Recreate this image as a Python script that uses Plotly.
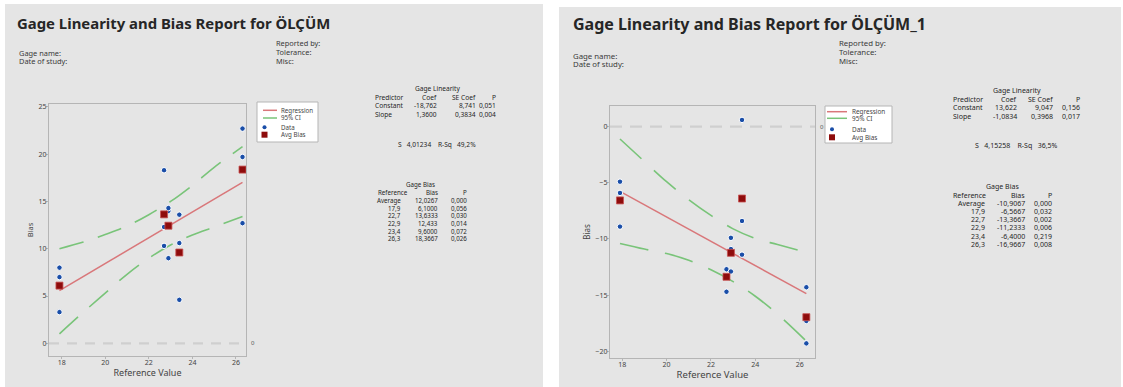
import plotly.graph_objects as go

W, H = 1123, 387

# ---------------- data ----------------
ref_values = [17.9, 22.7, 22.9, 23.4, 26.3]
ref_points = [17.9, 17.9, 17.9, 22.7, 22.7, 22.7, 22.9, 22.9, 22.9,
              23.4, 23.4, 23.4, 26.3, 26.3, 26.3]

bias_left = [8.0, 7.0, 3.3, 18.3, 12.3, 10.3, 14.0, 9.0, 14.3,
             13.6, 10.6, 4.6, 22.7, 19.7, 12.7]
avg_left = [6.1, 13.6333, 12.4333, 9.6, 18.3667]
reg_x = [17.9, 26.3]
reg_left = [5.58, 17.01]
ci_x = [17.9, 19, 20, 21, 22, 23, 24, 25, 26.3]
ci_up_left = [10.0, 10.7, 11.5, 12.4, 13.6, 15.0, 16.7, 18.6, 20.8]
ci_lo_left = [1.0, 3.3, 5.3, 7.3, 9.0, 10.4, 11.45, 12.3, 13.4]

bias_right = [-4.9, -5.9, -8.9, -12.7, -14.7, -12.7, -9.9, -10.9, -12.9,
              0.6, -8.4, -11.4, -14.3, -17.3, -19.3]
avg_right = [-6.5667, -13.3667, -11.2333, -6.4, -16.9667]
reg_right = [-5.77, -14.87]
ci_up_right = [-1.1, -3.1, -4.9, -6.5, -7.9, -9.1, -9.95, -10.5, -11.2]
ci_lo_right = [-10.4, -10.9, -11.3, -11.9, -12.75, -13.8, -15.1, -16.7, -19.1]

left_titles = ["Gage Linearity and Bias Report for ÖLÇÜM"]
right_titles = ["Gage Linearity and Bias Report for ÖLÇÜM_1"]

lin_left = [["Predictor", "Coef", "SE Coef", "P"],
            ["Constant", "-18,762", "8,741", "0,051"],
            ["Slope", "1,3600", "0,3834", "0,004"]]
s_left = "S   4,01234    R-Sq   49,2%"
bias_tab_left = [["Reference", "Bias", "P"],
                 ["Average", "12,0267", "0,000"],
                 ["17,9", "6,1000", "0,056"],
                 ["22,7", "13,6333", "0,030"],
                 ["22,9", "12,433", "0,014"],
                 ["23,4", "9,6000", "0,072"],
                 ["26,3", "18,3667", "0,026"]]

lin_right = [["Predictor", "Coef", "SE Coef", "P"],
             ["Constant", "13,622", "9,047", "0,156"],
             ["Slope", "-1,0834", "0,3968", "0,017"]]
s_right = "S   4,15258    R-Sq   36,5%"
bias_tab_right = [["Reference", "Bias", "P"],
                  ["Average", "-10,9067", "0,000"],
                  ["17,9", "-6,5667", "0,032"],
                  ["22,7", "-13,3667", "0,002"],
                  ["22,9", "-11,2333", "0,006"],
                  ["23,4", "-6,4000", "0,219"],
                  ["26,3", "-16,9667", "0,008"]]

x_ticks = [18, 20, 22, 24, 26]
y_ticks_left = [0, 5, 10, 15, 20, 25]
y_ticks_right = [-20, -15, -10, -5, 0]

# ---------------- styles ----------------
FONT = "Noto Sans"
TXT = "#262626"
PANEL = "#e5e5e5"
RED = "#d9777a"
GREEN = "#79c479"
BLUE = "#1a4ea8"
DRED = "#8e0c0c"
FRAME = "#b5b5b5"


def px(x):
    return x / W


def py(y):
    return 1 - y / H


fig = go.Figure()

shapes = []
annotations = []


def text(x, y, s, size, xanchor="left", color=TXT, bold=False, yanchor="middle"):
    annotations.append(dict(
        x=px(x), y=py(y), xref="paper", yref="paper", text=s, showarrow=False,
        xanchor=xanchor, yanchor=yanchor,
        font=dict(family=FONT, size=size, color=color,
                  weight="bold" if bold else "normal")))


# panels
shapes.append(dict(type="rect", xref="paper", yref="paper", x0=px(5), x1=px(543),
                   y0=py(387), y1=py(4), fillcolor=PANEL, line_width=0, layer="below"))
shapes.append(dict(type="rect", xref="paper", yref="paper", x0=px(559), x1=px(1121),
                   y0=py(387), y1=py(7), fillcolor=PANEL, line_width=0, layer="below"))


def panel(idx, bias, avg, reg, ci_up, ci_lo, dom_x, dom_y, xr, yr, yticks,
          ci_dash, zero_dash, legend_box, legend_rows, title, title_pos, title_size,
          hdr, lin, s_txt, btab, c, tick_size, lab_size):
    xa = "x" if idx == 1 else "x2"
    ya = "y" if idx == 1 else "y2"
    xk = "xaxis" if idx == 1 else "xaxis2"
    yk = "yaxis" if idx == 1 else "yaxis2"

    for ci in (ci_up, ci_lo):
        fig.add_trace(go.Scatter(x=ci_x, y=ci, mode="lines", xaxis=xa, yaxis=ya,
                                 line=dict(color=GREEN, width=1.6, dash=ci_dash, shape="spline"),
                                 showlegend=False, hoverinfo="skip"))
    fig.add_trace(go.Scatter(x=reg_x, y=reg, mode="lines", xaxis=xa, yaxis=ya,
                             line=dict(color=RED, width=1.5), showlegend=False))
    fig.add_trace(go.Scatter(x=ref_points, y=bias, mode="markers", xaxis=xa, yaxis=ya,
                             marker=dict(color=BLUE, size=5.5, line=dict(color="white", width=1)),
                             showlegend=False))
    fig.add_trace(go.Scatter(x=ref_values, y=avg, mode="markers", xaxis=xa, yaxis=ya,
                             marker=dict(color=DRED, size=7, symbol="square",
                                         line=dict(color="#c85050", width=0.8)),
                             showlegend=False))

    axcommon = dict(showgrid=False, zeroline=False, showline=True, linecolor=FRAME,
                    linewidth=1.2, mirror=True, ticks="outside", ticklen=2,
                    tickcolor=FRAME, automargin=False,
                    tickfont=dict(family=FONT, size=tick_size, color="#444"))
    fig.update_layout({
        xk: dict(domain=[px(dom_x[0]), px(dom_x[1])], range=xr, tickvals=x_ticks,
                 anchor=ya, ticklabelstandoff=-3,
                 title=dict(text="Reference Value", standoff=2,
                            font=dict(family=FONT, size=lab_size, color="#444")),
                 **axcommon),
        yk: dict(domain=[py(dom_y[1]), py(dom_y[0])], range=yr, tickvals=yticks,
                 anchor=xa, ticklabelstandoff=-2,
                 title=dict(text="Bias", standoff=3,
                            font=dict(family=FONT, size=lab_size - 1.5, color="#444")),
                 **axcommon),
    })

    # zero reference line
    shapes.append(dict(type="line", xref=f"{xa} domain", yref=ya, x0=0, x1=1, y0=0, y1=0,
                       line=dict(color="#cfcfcf", width=2.2, dash=zero_dash)))
    annotations.append(dict(xref=f"{xa} domain", yref=ya, x=1.0, y=0, text="0",
                            xanchor="left", showarrow=False, xshift=3,
                            font=dict(family=FONT, size=tick_size - 1, color="#555")))

    # legend
    lx0, ly0, lx1, ly1 = legend_box
    shapes.append(dict(type="rect", xref="paper", yref="paper", x0=px(lx0), x1=px(lx1),
                       y0=py(ly1), y1=py(ly0), fillcolor="white",
                       line=dict(color=FRAME, width=1)))
    (yr1, yr2, yr3, yr4), (lnx0, lnx1, dotx, tx), lfs = legend_rows
    shapes.append(dict(type="line", xref="paper", yref="paper", x0=px(lnx0), x1=px(lnx1),
                       y0=py(yr1), y1=py(yr1), line=dict(color=RED, width=1.5)))
    shapes.append(dict(type="line", xref="paper", yref="paper", x0=px(lnx0), x1=px(lnx1),
                       y0=py(yr2), y1=py(yr2), line=dict(color=GREEN, width=1.5)))
    shapes.append(dict(type="circle", xref="paper", yref="paper", x0=px(dotx - 2),
                       x1=px(dotx + 2), y0=py(yr3 + 2), y1=py(yr3 - 2),
                       fillcolor=BLUE, line_width=0))
    shapes.append(dict(type="rect", xref="paper", yref="paper", x0=px(dotx - 3),
                       x1=px(dotx + 3), y0=py(yr4 + 3), y1=py(yr4 - 3),
                       fillcolor=DRED, line_width=0))
    for yy, s in zip([yr1, yr2, yr3, yr4], ["Regression", "95% CI", "Data", "Avg Bias"]):
        text(tx, yy, s, lfs, color="#444")

    # title and header
    text(title_pos[0], title_pos[1], title, title_size, bold=True, color="#262626")
    (gx, gy1, gy2), (rx, ry1, ry2, ry3), hs = hdr
    text(gx, gy1, "Gage name:", hs, color="#3a3a3a")
    text(gx, gy2, "Date of study:", hs, color="#3a3a3a")
    text(rx, ry1, "Reported by:", hs, color="#3a3a3a")
    text(rx, ry2, "Tolerance:", hs, color="#3a3a3a")
    text(rx, ry3, "Misc:", hs, color="#3a3a3a")

    # statistics
    fl, fb = c["fs_lin"], c["fs_bias"]
    text(c["lin_title"][0], c["lin_title"][1], "Gage Linearity", fl, xanchor="center")
    for i, row in enumerate(lin):
        yy = c["lin_y0"] + i * c["dy_lin"]
        text(c["lin_cols"][0], yy, row[0], fl)
        for colx, s in zip(c["lin_cols"][1:], row[1:]):
            text(colx, yy, s, fl, xanchor="right")
    text(c["s_pos"][0], c["s_pos"][1], s_txt.replace(" ", "&nbsp;"), fl, xanchor="center")
    text(c["bias_title"][0], c["bias_title"][1], "Gage Bias", fb, xanchor="center")
    for i, row in enumerate(btab):
        yy = c["bias_y0"] + i * c["dy_bias"]
        if i == 0:
            text(c["bias_cols"][0], yy, row[0], fb)
        else:
            text(c["bias_cols"][1], yy, row[0], fb, xanchor="right")
        text(c["bias_cols"][2], yy, row[1], fb, xanchor="right")
        text(c["bias_cols"][3], yy, row[2], fb, xanchor="right")


panel(1, bias_left, avg_left, reg_left, ci_up_left, ci_lo_left,
      (49, 246), (104, 356), [17.42, 26.46], [-1.34, 25.3],
      y_ticks_left, "25px,15px", "10px,8px",
      (257, 102, 318, 142),
      ((110.3, 118, 127.3, 134.7), (263, 277, 264.5, 279), 6.2),
      left_titles[0], (15, 23), 14.9,
      ((17, 52.5, 61.4), (274, 43, 52, 61), 7.4),
      lin_left, s_left, bias_tab_left,
      dict(fs_lin=6.6, fs_bias=6.2, dy_lin=8.7, dy_bias=7.7,
           lin_title=(437.5, 88), lin_y0=97,
           lin_cols=(373, 439, 478, 498), s_pos=(437, 144.7),
           bias_title=(420, 184.3), bias_y0=192.7,
           bias_cols=(376, 403.3, 440, 469.3)),
      7, 9)

panel(2, bias_right, avg_right, reg_right, ci_up_right, ci_lo_right,
      (610, 815), (106, 358), [17.45, 26.69], [-20.6, 1.84],
      y_ticks_right, "29px,17px", "12px,8px",
      (825, 106, 892, 143),
      ((111.7, 118.3, 129.3, 137.3), (827, 847, 832, 850), 6.4),
      right_titles[0], (571, 24), 16.05,
      ((571, 56, 64.5), (837, 43, 52, 61), 7.8),
      lin_right, s_right, bias_tab_right,
      dict(fs_lin=7.0, fs_bias=7.0, dy_lin=8.6, dy_bias=8.2,
           lin_title=(1016.7, 90.7), lin_y0=99.3,
           lin_cols=(950.7, 1019, 1055, 1081.7), s_pos=(1016.7, 146),
           bias_title=(1002.5, 186.7), bias_y0=195,
           bias_cols=(950.7, 987.3, 1026.7, 1054)),
      7, 9.5)

fig.update_layout(
    width=W, height=H, margin=dict(l=0, r=0, t=0, b=0),
    paper_bgcolor="white", plot_bgcolor="white",
    shapes=shapes, annotations=annotations, showlegend=False,
)

fig.write_html("out.html", config={"displayModeBar": False},
               post_script="document.body.style.margin='0';"
                           "document.body.style.overflow='hidden';")
